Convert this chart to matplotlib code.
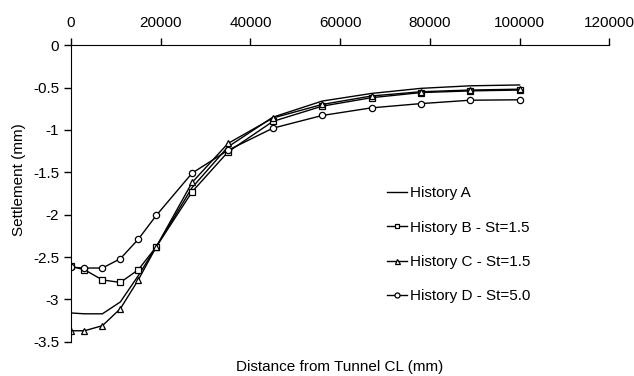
import numpy as np
import matplotlib
matplotlib.use("Agg")
import matplotlib.pyplot as plt

plt.rcParams['font.family'] = ['Liberation Sans', 'DejaVu Sans']

dist = [0, 3000, 7000, 11000, 15000, 19000, 27000, 35000, 45000, 56000, 67000, 78000, 89000, 100000]
hist_a = [-3.16, -3.17, -3.17, -3.03, -2.72, -2.38, -1.68, -1.20, -0.85, -0.66, -0.57, -0.51, -0.48, -0.47]
hist_b = [-2.61, -2.65, -2.77, -2.80, -2.65, -2.38, -1.73, -1.26, -0.90, -0.72, -0.62, -0.56, -0.54, -0.53]
hist_c = [-3.37, -3.37, -3.31, -3.11, -2.77, -2.38, -1.62, -1.16, -0.86, -0.70, -0.60, -0.55, -0.53, -0.52]
hist_d = [-2.62, -2.63, -2.63, -2.52, -2.29, -2.01, -1.51, -1.24, -0.98, -0.83, -0.74, -0.69, -0.65, -0.645]

fig = plt.figure(figsize=(6.34, 3.76), dpi=100)
ax = fig.add_axes([0.112, 0.091, 0.849, 0.789])

ax.plot(dist, hist_a, color='black', lw=1, label='History A')
ax.plot(dist, hist_b, color='black', lw=1, marker='s', ms=4, mfc='white', mew=0.9, label='History B - St=1.5')
ax.plot(dist, hist_c, color='black', lw=1, marker='^', ms=4.5, mfc='white', mew=0.9, label='History C - St=1.5')
ax.plot(dist, hist_d, color='black', lw=1, marker='o', ms=4.5, mfc='white', mew=0.9, label='History D - St=5.0')

ax.set_xlim(0, 120000)
ax.set_ylim(-3.5, 0)
ax.set_xticks(np.arange(0, 120001, 20000))
ax.set_yticks(np.arange(-3.5, 0.01, 0.5))
ax.set_yticklabels(['-3.5', '-3', '-2.5', '-2', '-1.5', '-1', '-0.5', '0'])
ax.xaxis.tick_top()
ax.spines['right'].set_visible(False)
ax.spines['bottom'].set_visible(False)
ax.tick_params(labelsize=11, direction='out', length=5, width=1)
ax.tick_params(axis='x', pad=6)

ax.set_ylabel('Settlement (mm)', fontsize=11)
ax.yaxis.set_label_coords(-0.083, 0.545)
fig.text(0.536, 0.012, 'Distance from Tunnel CL (mm)', ha='center', fontsize=11)

ax.legend(loc='upper left', bbox_to_anchor=(0.576, 0.545), frameon=False, fontsize=11,
          handlelength=1.3, handletextpad=0.2, labelspacing=1.33, borderaxespad=0,
          markerscale=0.8)

fig.savefig('out.png', dpi=100)
